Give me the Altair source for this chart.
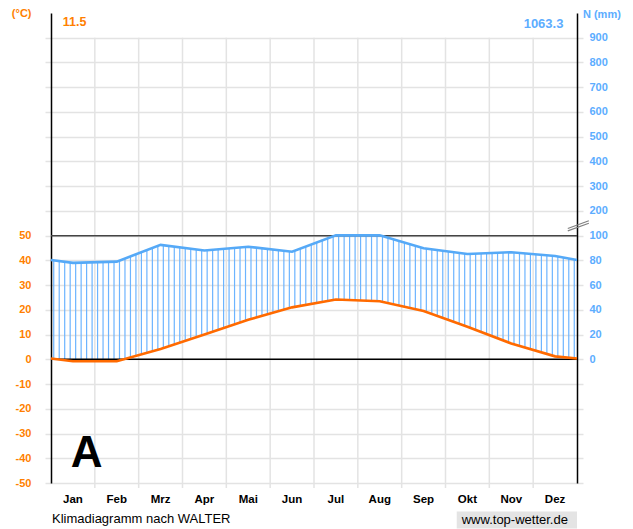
import json
import altair as alt
import pandas as pd

# ---------------- data ----------------
months = ["Jan", "Feb", "Mrz", "Apr", "Mai", "Jun", "Jul", "Aug", "Sep", "Okt", "Nov", "Dez"]
temperature = [-0.8, -0.8, 4.2, 10.0, 16.0, 21.0, 24.2, 23.5, 19.5, 13.2, 6.4, 1.2]          # °C
precipitation = [78.0, 79.0, 92.5, 88.0, 91.0, 87.0, 101.0, 101.5, 89.8, 85.2, 86.6, 83.6]    # mm
edge_temperature = 0.3      # value shown at the year's wrap (left/right edge)
edge_precipitation = 80.3
mean_temperature_text = "11.5"
annual_precipitation_text = "1063.3"
left_ticks = list(range(-50, 141, 10))

# ---------------- style ----------------
ORANGE_LINE = "#ff6a00"
ORANGE_TEXT = "#ff7f00"
BLUE_LINE = "#55a9f7"
BLUE_TEXT = "#5cadff"
HATCH = "#6cb4ff"
GRID = "#e3e3e3"
FONT = "Liberation Sans"

ext_pos = [-0.5] + list(range(12)) + [11.5]
ext_T = [edge_temperature] + temperature + [edge_temperature]
ext_P = [edge_precipitation] + precipitation + [edge_precipitation]
curve = pd.DataFrame({"pos": ext_pos, "T": ext_T, "P": ext_P})
month_df = pd.DataFrame({"pos": list(range(12)), "m": months, "y": -56.9})

P_TO_Y = "datum.P <= 100 ? datum.P / 2 : 50 + (datum.P - 100) / 10"

xs = alt.Scale(domain=[-0.5, 11.5], nice=False, zero=False)
ys = alt.Scale(domain=[-50, 140], nice=False, zero=False)

# vertical grid at month boundaries
bounds = pd.DataFrame({"pos": [k + 0.5 for k in range(11)], "y0": -52, "y1": 130})
vgrid = alt.Chart(bounds).mark_rule(color=GRID, strokeWidth=1.5).encode(
    x=alt.X("pos:Q", scale=xs, axis=None),
    y=alt.Y("y0:Q", scale=ys, axis=None),
    y2="y1:Q",
)

# reference lines (0 °C and 50 °C / 100 mm)
refs = pd.DataFrame({"v": [0, 50], "c": ["#000000", "#444444"], "x0": -0.5, "x1": 11.5})
ref_layer = alt.Chart(refs).mark_rule(strokeWidth=1.5).encode(
    x=alt.X("x0:Q", scale=xs, axis=None),
    x2="x1:Q",
    y=alt.Y("v:Q", scale=ys, axis=None),
    color=alt.Color("c:N", scale=None),
)

# hatch between the curves (humid period), linear between the drawn points
jp, jt, jpr = json.dumps(ext_pos), json.dumps(ext_T), json.dumps(ext_P)
hatch = (
    alt.Chart(alt.sequence(0, 96, as_="i"))
    .transform_calculate(pos="-0.5 + (datum.i + 0.5) * 0.125")
    .transform_calculate(lo="datum.pos < 0 ? 0 : (datum.pos >= 11 ? 12 : floor(datum.pos) + 1)")
    .transform_calculate(f=f"(datum.pos - {jp}[datum.lo]) / ({jp}[datum.lo + 1] - {jp}[datum.lo])")
    .transform_calculate(
        tt=f"{jt}[datum.lo] + ({jt}[datum.lo + 1] - {jt}[datum.lo]) * datum.f",
        P=f"{jpr}[datum.lo] + ({jpr}[datum.lo + 1] - {jpr}[datum.lo]) * datum.f",
    )
    .transform_calculate(py=P_TO_Y)
    .mark_rule(color=HATCH, strokeWidth=1.2)
    .encode(
        x=alt.X("pos:Q", scale=xs, axis=None),
        y=alt.Y("py:Q", scale=ys, axis=None),
        y2="tt:Q",
    )
)

temp_line = alt.Chart(curve).mark_line(color=ORANGE_LINE, strokeWidth=2.6).encode(
    x=alt.X("pos:Q", scale=xs, title=None, axis=alt.Axis(
        values=list(range(12)), labels=False, grid=False, ticks=False,
        domainColor="#808080", domainWidth=2)),
    y=alt.Y("T:Q", scale=ys, title=None, axis=alt.Axis(
        orient="left", values=left_ticks,
        labelExpr="datum.value <= 50 ? datum.value : (datum.value == 140 ? '(°C)' : '')",
        grid=True, gridColor=GRID, gridWidth=1.5,
        gridOpacity={"condition": {"test": "datum.value >= 140", "value": 0}, "value": 1},
        tickColor=GRID, tickWidth=1.5, tickSize=6,
        tickOpacity={"condition": {"test": "datum.value >= 140", "value": 0}, "value": 1},
        domainColor="#000000", domainWidth=1.5, labelFont=FONT, labelFontSize=11,
        labelFontWeight="bold", labelColor=ORANGE_TEXT, labelPadding=14,
        labelOverlap=False, labelFlush=False)),
)

prec_line = alt.Chart(curve).transform_calculate(py=P_TO_Y).mark_line(
    color=BLUE_LINE, strokeWidth=2.6).encode(
    x=alt.X("pos:Q", scale=xs, axis=None),
    y=alt.Y("py:Q", scale=ys, title=None, axis=alt.Axis(
        orient="right", values=left_ticks,
        labelExpr="datum.value < 0 || datum.value >= 140 ? '' : (datum.value <= 50 ? datum.value * 2 : (datum.value - 50) * 10 + 100)",
        grid=False, tickColor=GRID, tickWidth=1.5, tickSize=6,
        tickOpacity={"condition": {"test": "datum.value >= 140", "value": 0}, "value": 1},
        domainColor="#000000", domainWidth=1.5, labelFont=FONT, labelFontSize=11,
        labelFontWeight="bold", labelColor=BLUE_TEXT, labelPadding=6,
        labelOverlap=False, labelFlush=False)),
)

# month names under the plot
month_labels = alt.Chart(month_df).mark_text(
    font=FONT, fontSize=11.5, fontWeight="bold", color="#000000", baseline="middle"
).encode(
    x=alt.X("pos:Q", scale=xs, axis=None),
    y=alt.Y("y:Q", scale=ys, axis=None),
    text="m:N",
)

# axis break marks on the precipitation axis
breaks = pd.DataFrame({"x0": [11.29, 11.29], "x1": [11.77, 11.77],
                       "y0": [51.9, 52.9], "y1": [55.0, 56.0]})
break_layer = alt.Chart(breaks).mark_rule(color="#808080", strokeWidth=1.2).encode(
    x=alt.X("x0:Q", scale=xs, axis=None), x2="x1:Q",
    y=alt.Y("y0:Q", scale=ys, axis=None), y2="y1:Q",
)


def text_layer(txt, x, y, **kw):
    d = pd.DataFrame({"t": [txt], "x": [x], "y": [y]})
    return alt.Chart(d).mark_text(font=FONT, **kw).encode(
        x=alt.X("x:Q", scale=xs, axis=None),
        y=alt.Y("y:Q", scale=ys, axis=None),
        text="t:N",
    )


unit_right = text_layer("N (mm)", 12.50, 139.2, align="right", baseline="middle",
                        fontSize=11, fontWeight="bold", color=BLUE_TEXT)
mean_txt = text_layer(mean_temperature_text, -0.233, 136.4, align="left", baseline="middle",
                      fontSize=12.5, fontWeight="bold", color=ORANGE_TEXT)
sum_txt = text_layer(annual_precipitation_text, 11.19, 135.7, align="right", baseline="middle",
                     fontSize=13, fontWeight="bold", color=BLUE_TEXT)
big_a = text_layer("A", -0.05, -43.5, align="left", baseline="alphabetic",
                   fontSize=44, fontWeight="bold", color="#000000")
footer_left = text_layer("Klimadiagramm nach WALTER", -0.477, -64.6, align="left",
                         baseline="middle", fontSize=13, color="#000000")

box = pd.DataFrame({"x0": [8.756], "x1": [11.5], "y0": [-61.5], "y1": [-68.4]})
footer_box = alt.Chart(box).mark_rect(color="#e4e4e4").encode(
    x=alt.X("x0:Q", scale=xs, axis=None), x2="x1:Q",
    y=alt.Y("y0:Q", scale=ys, axis=None), y2="y1:Q",
)
footer_right = text_layer("www.top-wetter.de", 8.87, -64.8, align="left",
                          baseline="middle", fontSize=13, color="#000000")

chart = (
    alt.layer(vgrid, hatch, ref_layer, temp_line, prec_line, break_layer, month_labels,
              unit_right, mean_txt, sum_txt, big_a, footer_box, footer_left, footer_right)
    .resolve_axis(y="independent")
    .properties(width=526, height=470, padding={"left": 43, "top": 5, "right": 48, "bottom": 46},
                autosize=alt.AutoSizeParams(type="none"), background="#ffffff")
    .configure_view(stroke=None)
)

chart.save("out.html", embed_options={"renderer": "svg", "actions": False})
